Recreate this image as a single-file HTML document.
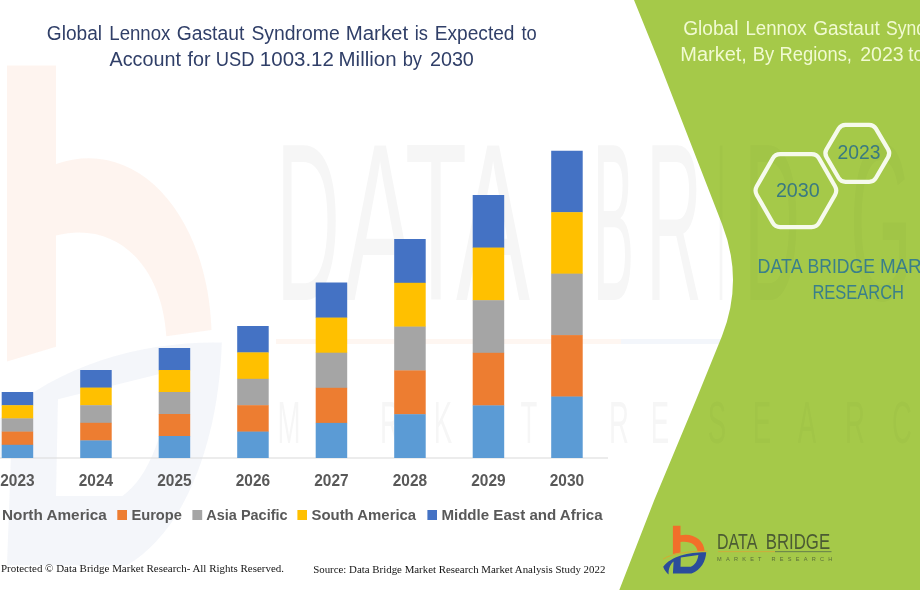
<!DOCTYPE html>
<html><head><meta charset="utf-8">
<title>Global Lennox Gastaut Syndrome Market</title>
<style>
html,body{margin:0;padding:0;background:#fff;}
body{width:920px;height:590px;overflow:hidden;font-family:"Liberation Sans",sans-serif;}
svg{display:block;}
text{font-family:"Liberation Sans",sans-serif;}
.ser text{font-family:"Liberation Serif",serif;}
</style></head><body>
<svg width="920" height="590" viewBox="0 0 920 590">
<rect width="920" height="590" fill="#ffffff"/>

<g id="wm">
 <g transform="translate(7 65.4) scale(6.45 10.5) translate(-672.9 -525.8)">
  <path d="M672.9 525.8 H680.5 V535.2 C693 532.5 704 540 704.6 551 L697.6 551.6 C697 545 690 540.5 680.5 542 V552.6 L672.9 554 Z" fill="#F26F2A" opacity="0.075"/>
  <path d="M706.2 552.2 C705.8 561 701 570 691.5 573.4 L672.9 573.4 L673.6 561.5 C670.5 564 668.3 568.5 668.6 574.6 C666.5 572.5 664 570 663.2 566.8 C671 556 690 552 706.2 552.2 Z M680.8 557.6 L698.4 554.9 C697.6 560.5 695 565 690.8 566.8 H680.5 Z" fill="#2B4C9B" fill-rule="evenodd" opacity="0.05"/>
 </g>
 <g fill="#000" opacity="0.038">
  <text x="276.00" y="300.00" textLength="64.01" lengthAdjust="spacingAndGlyphs" font-size="224">D</text>
  <text x="344.00" y="300.00" textLength="72.00" lengthAdjust="spacingAndGlyphs" font-size="224">A</text>
  <text x="405.00" y="300.00" textLength="61.99" lengthAdjust="spacingAndGlyphs" font-size="224">T</text>
  <text x="456.00" y="300.00" textLength="74.00" lengthAdjust="spacingAndGlyphs" font-size="224">A</text>
  <text x="593.00" y="300.00" textLength="41.00" lengthAdjust="spacingAndGlyphs" font-size="224">B</text>
  <text x="646.00" y="300.00" textLength="56.01" lengthAdjust="spacingAndGlyphs" font-size="224">R</text>
  <text x="717.00" y="300.00" textLength="8.00" lengthAdjust="spacingAndGlyphs" font-size="224">I</text>
  <text x="744.00" y="300.00" textLength="56.01" lengthAdjust="spacingAndGlyphs" font-size="224">D</text>
  <text x="850.00" y="300.00" textLength="61.99" lengthAdjust="spacingAndGlyphs" font-size="224">G</text>
  <text x="925.00" y="300.00" textLength="50.00" lengthAdjust="spacingAndGlyphs" font-size="224">E</text>
  <text transform="translate(289 443) scale(0.46 1)" text-anchor="middle" font-size="60">M</text>
  <text transform="translate(338 443) scale(0.46 1)" text-anchor="middle" font-size="60">A</text>
  <text transform="translate(390 443) scale(0.46 1)" text-anchor="middle" font-size="60">R</text>
  <text transform="translate(443 443) scale(0.46 1)" text-anchor="middle" font-size="60">K</text>
  <text transform="translate(487 443) scale(0.46 1)" text-anchor="middle" font-size="60">E</text>
  <text transform="translate(529 443) scale(0.46 1)" text-anchor="middle" font-size="60">T</text>
  <text transform="translate(619 443) scale(0.46 1)" text-anchor="middle" font-size="60">R</text>
  <text transform="translate(660 443) scale(0.46 1)" text-anchor="middle" font-size="60">E</text>
  <text transform="translate(717 443) scale(0.46 1)" text-anchor="middle" font-size="60">S</text>
  <text transform="translate(762 443) scale(0.46 1)" text-anchor="middle" font-size="60">E</text>
  <text transform="translate(807 443) scale(0.46 1)" text-anchor="middle" font-size="60">A</text>
  <text transform="translate(855 443) scale(0.46 1)" text-anchor="middle" font-size="60">R</text>
  <text transform="translate(902 443) scale(0.46 1)" text-anchor="middle" font-size="60">C</text>
  <text transform="translate(950 443) scale(0.46 1)" text-anchor="middle" font-size="60">H</text>
 </g>
 <rect x="276" y="339" width="345" height="5" fill="#F4B183" opacity="0.11"/>
 <rect x="621" y="339" width="120" height="5" fill="#8FAADC" opacity="0.11"/>
</g>
<path d="M634 0 L658.3 60 L722 224 Q744 280 722 336 L696 400 L654.3 500 L619.3 590 L920 590 L920 0 Z" fill="#A5C949"/>
<g clip-path="url(#gc)" fill="#000" opacity="0.022">
  <text x="276.00" y="300.00" textLength="64.01" lengthAdjust="spacingAndGlyphs" font-size="224">D</text>
  <text x="344.00" y="300.00" textLength="72.00" lengthAdjust="spacingAndGlyphs" font-size="224">A</text>
  <text x="405.00" y="300.00" textLength="61.99" lengthAdjust="spacingAndGlyphs" font-size="224">T</text>
  <text x="456.00" y="300.00" textLength="74.00" lengthAdjust="spacingAndGlyphs" font-size="224">A</text>
  <text x="593.00" y="300.00" textLength="41.00" lengthAdjust="spacingAndGlyphs" font-size="224">B</text>
  <text x="646.00" y="300.00" textLength="56.01" lengthAdjust="spacingAndGlyphs" font-size="224">R</text>
  <text x="717.00" y="300.00" textLength="8.00" lengthAdjust="spacingAndGlyphs" font-size="224">I</text>
  <text x="744.00" y="300.00" textLength="56.01" lengthAdjust="spacingAndGlyphs" font-size="224">D</text>
  <text x="850.00" y="300.00" textLength="61.99" lengthAdjust="spacingAndGlyphs" font-size="224">G</text>
  <text x="925.00" y="300.00" textLength="50.00" lengthAdjust="spacingAndGlyphs" font-size="224">E</text>
  <text transform="translate(289 443) scale(0.46 1)" text-anchor="middle" font-size="60">M</text>
  <text transform="translate(338 443) scale(0.46 1)" text-anchor="middle" font-size="60">A</text>
  <text transform="translate(390 443) scale(0.46 1)" text-anchor="middle" font-size="60">R</text>
  <text transform="translate(443 443) scale(0.46 1)" text-anchor="middle" font-size="60">K</text>
  <text transform="translate(487 443) scale(0.46 1)" text-anchor="middle" font-size="60">E</text>
  <text transform="translate(529 443) scale(0.46 1)" text-anchor="middle" font-size="60">T</text>
  <text transform="translate(619 443) scale(0.46 1)" text-anchor="middle" font-size="60">R</text>
  <text transform="translate(660 443) scale(0.46 1)" text-anchor="middle" font-size="60">E</text>
  <text transform="translate(717 443) scale(0.46 1)" text-anchor="middle" font-size="60">S</text>
  <text transform="translate(762 443) scale(0.46 1)" text-anchor="middle" font-size="60">E</text>
  <text transform="translate(807 443) scale(0.46 1)" text-anchor="middle" font-size="60">A</text>
  <text transform="translate(855 443) scale(0.46 1)" text-anchor="middle" font-size="60">R</text>
  <text transform="translate(902 443) scale(0.46 1)" text-anchor="middle" font-size="60">C</text>
  <text transform="translate(950 443) scale(0.46 1)" text-anchor="middle" font-size="60">H</text>
</g>
<clipPath id="gc"><path d="M634 0 L658.3 60 L722 224 Q744 280 722 336 L696 400 L654.3 500 L619.3 590 L920 590 L920 0 Z"/></clipPath>
<g fill="#303F68" font-size="19.5">
 <text x="46.80" y="39.60" textLength="55.22" lengthAdjust="spacingAndGlyphs">Global</text>
 <text x="109.30" y="39.60" textLength="61.08" lengthAdjust="spacingAndGlyphs">Lennox</text>
 <text x="176.70" y="39.60" textLength="67.59" lengthAdjust="spacingAndGlyphs">Gastaut</text>
 <text x="251.40" y="39.60" textLength="88.28" lengthAdjust="spacingAndGlyphs">Syndrome</text>
 <text x="345.70" y="39.60" textLength="62.50" lengthAdjust="spacingAndGlyphs">Market</text>
 <text x="414.72" y="39.60" textLength="13.24" lengthAdjust="spacingAndGlyphs">is</text>
 <text x="434.80" y="39.60" textLength="79.71" lengthAdjust="spacingAndGlyphs">Expected</text>
 <text x="521.46" y="39.60" textLength="15.29" lengthAdjust="spacingAndGlyphs">to</text>
 <text x="109.50" y="65.60" textLength="71.51" lengthAdjust="spacingAndGlyphs">Account</text>
 <text x="187.50" y="65.60" textLength="23.11" lengthAdjust="spacingAndGlyphs">for</text>
 <text x="215.86" y="65.60" textLength="38.70" lengthAdjust="spacingAndGlyphs">USD</text>
 <text x="259.89" y="65.60" textLength="74.01" lengthAdjust="spacingAndGlyphs">1003.12</text>
 <text x="338.60" y="65.60" textLength="57.91" lengthAdjust="spacingAndGlyphs">Million</text>
 <text x="402.67" y="65.60" textLength="19.36" lengthAdjust="spacingAndGlyphs">by</text>
 <text x="429.90" y="65.60" textLength="43.98" lengthAdjust="spacingAndGlyphs">2030</text>
</g>
<rect x="0" y="457.5" width="608" height="1" fill="#D9D9D9"/>
<g id="bars">
 <rect x="1.70" y="392.00" width="31.5" height="13.50" fill="#4472C4"/>
 <rect x="1.70" y="405.20" width="31.5" height="13.50" fill="#FFC000"/>
 <rect x="1.70" y="418.40" width="31.5" height="13.50" fill="#A5A5A5"/>
 <rect x="1.70" y="431.60" width="31.5" height="13.50" fill="#ED7D31"/>
 <rect x="1.70" y="444.80" width="31.5" height="13.20" fill="#5B9BD5"/>
 <rect x="80.20" y="370.00" width="31.5" height="17.90" fill="#4472C4"/>
 <rect x="80.20" y="387.60" width="31.5" height="17.90" fill="#FFC000"/>
 <rect x="80.20" y="405.20" width="31.5" height="17.90" fill="#A5A5A5"/>
 <rect x="80.20" y="422.80" width="31.5" height="17.90" fill="#ED7D31"/>
 <rect x="80.20" y="440.40" width="31.5" height="17.60" fill="#5B9BD5"/>
 <rect x="158.70" y="348.00" width="31.5" height="22.30" fill="#4472C4"/>
 <rect x="158.70" y="370.00" width="31.5" height="22.30" fill="#FFC000"/>
 <rect x="158.70" y="392.00" width="31.5" height="22.30" fill="#A5A5A5"/>
 <rect x="158.70" y="414.00" width="31.5" height="22.30" fill="#ED7D31"/>
 <rect x="158.70" y="436.00" width="31.5" height="22.00" fill="#5B9BD5"/>
 <rect x="237.20" y="326.00" width="31.5" height="26.70" fill="#4472C4"/>
 <rect x="237.20" y="352.40" width="31.5" height="26.70" fill="#FFC000"/>
 <rect x="237.20" y="378.80" width="31.5" height="26.70" fill="#A5A5A5"/>
 <rect x="237.20" y="405.20" width="31.5" height="26.70" fill="#ED7D31"/>
 <rect x="237.20" y="431.60" width="31.5" height="26.40" fill="#5B9BD5"/>
 <rect x="315.70" y="282.50" width="31.5" height="35.40" fill="#4472C4"/>
 <rect x="315.70" y="317.60" width="31.5" height="35.40" fill="#FFC000"/>
 <rect x="315.70" y="352.70" width="31.5" height="35.40" fill="#A5A5A5"/>
 <rect x="315.70" y="387.80" width="31.5" height="35.40" fill="#ED7D31"/>
 <rect x="315.70" y="422.90" width="31.5" height="35.10" fill="#5B9BD5"/>
 <rect x="394.20" y="239.00" width="31.5" height="44.10" fill="#4472C4"/>
 <rect x="394.20" y="282.80" width="31.5" height="44.10" fill="#FFC000"/>
 <rect x="394.20" y="326.60" width="31.5" height="44.10" fill="#A5A5A5"/>
 <rect x="394.20" y="370.40" width="31.5" height="44.10" fill="#ED7D31"/>
 <rect x="394.20" y="414.20" width="31.5" height="43.80" fill="#5B9BD5"/>
 <rect x="472.70" y="195.00" width="31.5" height="52.90" fill="#4472C4"/>
 <rect x="472.70" y="247.60" width="31.5" height="52.90" fill="#FFC000"/>
 <rect x="472.70" y="300.20" width="31.5" height="52.90" fill="#A5A5A5"/>
 <rect x="472.70" y="352.80" width="31.5" height="52.90" fill="#ED7D31"/>
 <rect x="472.70" y="405.40" width="31.5" height="52.60" fill="#5B9BD5"/>
 <rect x="551.20" y="150.75" width="31.5" height="61.75" fill="#4472C4"/>
 <rect x="551.20" y="212.20" width="31.5" height="61.75" fill="#FFC000"/>
 <rect x="551.20" y="273.65" width="31.5" height="61.75" fill="#A5A5A5"/>
 <rect x="551.20" y="335.10" width="31.5" height="61.75" fill="#ED7D31"/>
 <rect x="551.20" y="396.55" width="31.5" height="61.45" fill="#5B9BD5"/>
</g>
<g fill="#595959" font-size="15.6" font-weight="bold">
 <text x="0.25" y="486.30" textLength="34.40" lengthAdjust="spacingAndGlyphs">2023</text>
 <text x="78.75" y="486.30" textLength="34.40" lengthAdjust="spacingAndGlyphs">2024</text>
 <text x="157.25" y="486.30" textLength="34.40" lengthAdjust="spacingAndGlyphs">2025</text>
 <text x="235.75" y="486.30" textLength="34.40" lengthAdjust="spacingAndGlyphs">2026</text>
 <text x="314.25" y="486.30" textLength="34.40" lengthAdjust="spacingAndGlyphs">2027</text>
 <text x="392.75" y="486.30" textLength="34.40" lengthAdjust="spacingAndGlyphs">2028</text>
 <text x="471.25" y="486.30" textLength="34.40" lengthAdjust="spacingAndGlyphs">2029</text>
 <text x="549.75" y="486.30" textLength="34.40" lengthAdjust="spacingAndGlyphs">2030</text>
</g>
<g fill="#595959" font-size="15.4" font-weight="bold">
 <text x="2.00" y="519.60" textLength="104.85" lengthAdjust="spacingAndGlyphs">North America</text>
 <rect x="117.3" y="510" width="9.7" height="10" fill="#ED7D31"/>
 <text x="131.40" y="519.60" textLength="50.60" lengthAdjust="spacingAndGlyphs">Europe</text>
 <rect x="192.4" y="510" width="9.8" height="10" fill="#A5A5A5"/>
 <text x="206.32" y="519.60" textLength="81.27" lengthAdjust="spacingAndGlyphs">Asia Pacific</text>
 <rect x="297.4" y="510" width="9.6" height="10" fill="#FFC000"/>
 <text x="311.50" y="519.60" textLength="104.66" lengthAdjust="spacingAndGlyphs">South America</text>
 <rect x="427.4" y="510" width="9.6" height="10" fill="#4472C4"/>
 <text x="441.40" y="519.60" textLength="161.24" lengthAdjust="spacingAndGlyphs">Middle East and Africa</text>
</g>
<g class="ser" fill="#141414" font-size="11.3">
 <text x="1.00" y="572.20" textLength="283.00" lengthAdjust="spacingAndGlyphs">Protected © Data Bridge Market Research- All Rights Reserved.</text>
 <text x="313.20" y="572.70" textLength="292.18" lengthAdjust="spacingAndGlyphs">Source: Data Bridge Market Research Market Analysis Study 2022</text>
</g>
<g fill="#F1FAD2" font-size="19.5">
 <text x="683.20" y="35.00" textLength="55.32" lengthAdjust="spacingAndGlyphs">Global</text>
 <text x="745.50" y="35.00" textLength="61.18" lengthAdjust="spacingAndGlyphs">Lennox</text>
 <text x="813.20" y="35.00" textLength="66.59" lengthAdjust="spacingAndGlyphs">Gastaut</text>
 <text x="886.00" y="35.00" textLength="79.99" lengthAdjust="spacingAndGlyphs">Syndrome</text>
 <text x="680.30" y="61.00" textLength="66.61" lengthAdjust="spacingAndGlyphs">Market,</text>
 <text x="752.66" y="61.00" textLength="21.39" lengthAdjust="spacingAndGlyphs">By</text>
 <text x="779.58" y="61.00" textLength="72.35" lengthAdjust="spacingAndGlyphs">Regions,</text>
 <text x="860.20" y="61.00" textLength="43.48" lengthAdjust="spacingAndGlyphs">2023</text>
 <text x="908.30" y="61.00" textLength="15.45" lengthAdjust="spacingAndGlyphs">to</text>
</g>
<g fill="none" stroke="#F6FAEC" stroke-width="4.2" stroke-linejoin="round">
 <path d="M756.78 194.94 Q754.30 190.60 756.79 186.26 L772.71 158.54 Q775.20 154.20 780.20 154.20 L811.60 154.20 Q816.60 154.20 819.09 158.54 L835.01 186.26 Q837.50 190.60 835.02 194.94 L819.08 222.76 Q816.60 227.10 811.60 227.10 L780.20 227.10 Q775.20 227.10 772.72 222.76 Z"/>
 <path d="M826.48 157.18 Q824.20 153.30 826.49 149.42 L838.71 128.68 Q841.00 124.80 845.50 124.80 L869.10 124.80 Q873.60 124.80 875.89 128.68 L888.11 149.42 Q890.40 153.30 888.12 157.18 L875.88 178.02 Q873.60 181.90 869.10 181.90 L845.50 181.90 Q841.00 181.90 838.72 178.02 Z"/>
</g>
<g fill="#3A7A80" font-size="19.5">
 <text x="775.90" y="197.10" textLength="43.88" lengthAdjust="spacingAndGlyphs">2030</text>
 <text x="837.60" y="158.90" textLength="42.98" lengthAdjust="spacingAndGlyphs">2023</text>
</g>
<g fill="#3A7F8A" font-size="19.8">
 <text x="757.60" y="273.40" textLength="45.02" lengthAdjust="spacingAndGlyphs">DATA</text>
 <text x="807.50" y="273.40" textLength="67.51" lengthAdjust="spacingAndGlyphs">BRIDGE</text>
 <text x="879.90" y="273.40" textLength="78.38" lengthAdjust="spacingAndGlyphs">MARKET</text>
 <text x="812.40" y="299.40" textLength="91.62" lengthAdjust="spacingAndGlyphs">RESEARCH</text>
</g>
<g id="logo">
 <path d="M672.9 525.8 H680.5 V535.2 C693 532.5 704 540 704.6 551 L697.6 551.6 C697 545 690 540.5 680.5 542 V552.6 L672.9 554 Z" fill="#F26F2A"/>
 <path d="M663 559.2 C672 553.2 690 551 707.5 551.3" fill="none" stroke="#DDA62E" stroke-width="1" opacity="0.85"/>
 <path d="M706.2 552.2 C705.8 561 701 570 691.5 573.4 L672.9 573.4 L673.6 561.5 C670.5 564 668.3 568.5 668.6 574.6 C666.5 572.5 664 570 663.2 566.8 C671 556 690 552 706.2 552.2 Z M680.8 557.6 L698.4 554.9 C697.6 560.5 695 565 690.8 566.8 H680.5 Z" fill="#2B4C9B" fill-rule="evenodd"/>
 <g fill="#4B5B33" font-size="21.3"><text x="717.00" y="549.00" textLength="40.30" lengthAdjust="spacingAndGlyphs">DATA</text><text x="765.80" y="549.00" textLength="64.31" lengthAdjust="spacingAndGlyphs">BRIDGE</text></g>
 <rect x="718" y="551.1" width="57" height="1" fill="#D9A53A" opacity="0.75"/>
 <rect x="775" y="551" width="56.5" height="1.2" fill="#6F8A4A"/>
 <text x="717" y="560.8" font-size="5.6" fill="#5A6E3A" textLength="115.3" lengthAdjust="spacing">MARKET  RESEARCH</text>
</g>
</svg>
</body></html>
